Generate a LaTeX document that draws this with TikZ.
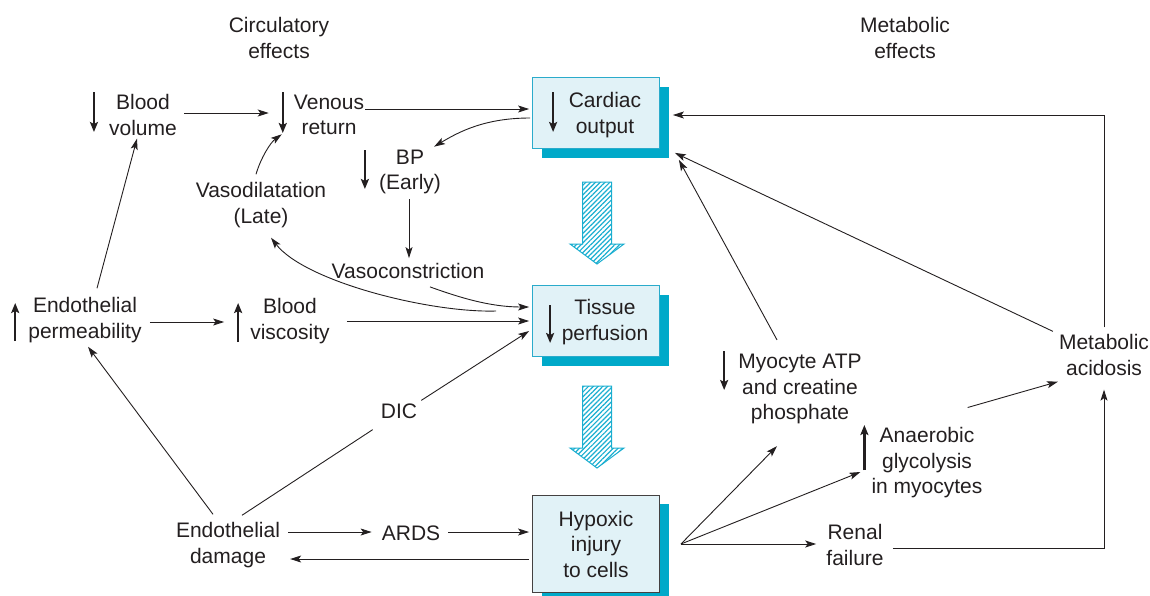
\documentclass[tikz,border=0pt]{standalone}
\usepackage{fontspec}
\setmainfont{Liberation Sans}
\usetikzlibrary{arrows.meta,patterns.meta,shadows,calc}

\definecolor{ink}{HTML}{231F20}
\definecolor{boxfill}{HTML}{E1F2F7}
\definecolor{boxline}{HTML}{2AABCB}
\definecolor{shade}{HTML}{00A9C9}
\definecolor{hatch}{HTML}{1AAED0}

\begin{document}
\begin{tikzpicture}[x=1pt,y=-1pt,
  every node/.style={font=\fontsize{21}{25.5}\selectfont, text=ink, align=center, inner sep=0pt},
  conn/.style={draw=ink, line width=0.9pt, -{Stealth[length=11pt,width=7pt,inset=2.5pt]}},
  plain/.style={draw=ink, line width=0.9pt},
  trend/.style={draw=ink, line width=2.4pt, -{Stealth[length=10pt,width=8pt,inset=2pt]}},
  cbox/.style={draw=boxline, line width=0.8pt, fill=boxfill, minimum width=127pt, minimum height=71pt,
    general shadow={fill=shade, shadow xshift=9pt, shadow yshift=-9pt}},
  hbox/.style={draw=ink!85, line width=0.9pt, fill=boxfill, minimum width=127pt, minimum height=97pt,
    general shadow={fill=shade, shadow xshift=9pt, shadow yshift=-8pt}},
  hatchedarrow/.style={draw=hatch, line width=1pt, fill=white,
    pattern={Lines[angle=45,distance=3.4pt,line width=1.2pt]}, pattern color=hatch},
  bigarrow/.pic={\draw[hatchedarrow] (-14.5,0) -- (14.5,0) -- (14.5,62) -- (27,62) -- (0,82)
    -- (-27,62) -- (-14.5,62) -- cycle;}
]
\useasboundingbox (0,0) rectangle (1150,595);

% column headings
\node (ce) at (279,38) {Circulatory\\effects};
\node (me) at (905,38) {Metabolic\\effects};

% central boxes
\node[cbox] (co) at (596,113) {};
\node (cot) at (605,115) {Cardiac\\output};
\node[cbox] (tp) at (596,321) {};
\node (tpt) at (605,322) {Tissue\\perfusion};
\node[hbox] (hy) at (596,544) {Hypoxic\\injury\\to cells};

% block arrows between the boxes
\pic at (597,182) {bigarrow};
\pic at (597,386) {bigarrow};

% circulatory side
\node (bvol) at (143,115) {Blood\\volume};
\node (vr)   at (329,115) {Venous\\return};
\node (bp)   at (410,172) {BP\\(Early)};
\node (vd)   at (261,205) {Vasodilatation\\(Late)};
\node (vc)   at (408,271) {Vasoconstriction};
\node (ep)   at (85,320)  {Endothelial\\permeability};
\node (bvis) at (290,321) {Blood\\viscosity};
\node (dic)  at (399,411) {DIC};
\node (ed)   at (228,545) {Endothelial\\damage};
\node (ards) at (411,533) {ARDS};

% metabolic side
\node (my) at (800,389)  {Myocyte ATP\\and creatine\\phosphate};
\node (an) at (927,463)  {Anaerobic\\glycolysis\\in myocytes};
\node (rf) at (855,545)  {Renal\\failure};
\node (ma) at (1104,355) {Metabolic\\acidosis};

% increase / decrease markers
\draw[trend] ([shift={(-15,-23)}]bvol.west) -- ([shift={(-15,17)}]bvol.west);
\draw[trend] ([shift={(-11,-23)}]vr.west) -- ([shift={(-11,18)}]vr.west);
\draw[trend] ([shift={(-14,-22)}]bp.west) -- ([shift={(-14,17)}]bp.west);
\draw[trend] ([shift={(-13,21)}]ep.west) -- ([shift={(-13,-17)}]ep.west);
\draw[trend] ([shift={(-12,21)}]bvis.west) -- ([shift={(-12,-18)}]bvis.west);
\draw[trend] ([shift={(21,-21)}]co.west) -- ([shift={(21,19)}]co.west);
\draw[trend] ([shift={(18,-16)}]tp.west) -- ([shift={(18,22)}]tp.west);
\draw[trend] ([shift={(-14,-38)}]my.west) -- ([shift={(-14,1)}]my.west);
\draw[trend] ([shift={(-7,7)}]an.west) -- ([shift={(-7,-38)}]an.west);

% circulatory connectors
\draw[conn] ([shift={(7,-2)}]bvol.east) -- ([shift={(-25,-2)}]vr.west);
\draw[conn] ([shift={(1,-6)}]vr.east) -- ([shift={(-3,-4)}]co.west);
\draw[conn] ([shift={(-2,5)}]co.west) .. controls +(-45,0) and +(25,-15) .. ([shift={(-7,-3)}]bp.north east);
\draw[conn] ([shift={(-1,5)}]bp.south) -- ([shift={(1,-5)}]vc.north);
\draw[conn] ([shift={(-5,-8)}]vd.north) .. controls +(5,-17) and +(-11,8) .. ([shift={(-12,-1)}]vr.south west);
\draw[conn] ([shift={(22,8)}]vc.south) .. controls +(28,10) and +(-40,0) .. ([shift={(-3,-14)}]tp.west);
\draw[conn] ([shift={(-36,-10)}]tp.west) .. controls +(-66,2) and +(34,44) .. ([shift={(10,10)}]vd.south);
\draw[conn] ([shift={(8,2)}]ep.east) -- ([shift={(-26,1)}]bvis.west);
\draw[conn] ([shift={(17,0)}]bvis.east) -- ([shift={(-3,0)}]tp.west);
\draw[conn] ([shift={(12,-9)}]ep.north) -- ([shift={(-6,3)}]bvol.south);
\draw[conn] ([shift={(-15,-8)}]ed.north) -- ([shift={(3,4)}]ep.south);
\draw[plain] ([shift={(14,-7)}]ed.north) -- ([shift={(-8,11)}]dic.south west);
\draw[conn] ([shift={(4,-3)}]dic.north east) -- ([shift={(-3,10)}]tp.west);
\draw[conn] ([shift={(8,-13)}]ed.east) -- ([shift={(-10,-1)}]ards.west);
\draw[conn] ([shift={(8,-1)}]ards.east) -- ([shift={(-3,-12)}]hy.west);
\draw[conn] ([shift={(-3,15)}]hy.west) -- ([shift={(10,14)}]ed.east);

% metabolic connectors
\coordinate (hub) at ([shift={(21,0)}]hy.east);
\draw[conn] (hub) -- ([shift={(-23,22)}]my.south);
\draw[conn] (hub) -- ([shift={(-11,9)}]an.west);
\draw[conn] (hub) -- ([shift={(-10,-1)}]rf.west);
\draw[conn] ([shift={(9,3)}]rf.east) -| ([shift={(0,14)}]ma.south);
\draw[conn] ([shift={(-15,-20)}]an.north east) -- ([shift={(-1,6)}]ma.south west);
\draw[conn] ([shift={(0,-7)}]ma.north) |- ([shift={(13,2)}]co.east);
\draw[conn] ([shift={(-6,-3)}]ma.north west) -- ([shift={(15,4)}]co.south east);
\draw[conn] ([shift={(-23,-14)}]my.north) -- ([shift={(19,11)}]co.south east);
\end{tikzpicture}
\end{document}
